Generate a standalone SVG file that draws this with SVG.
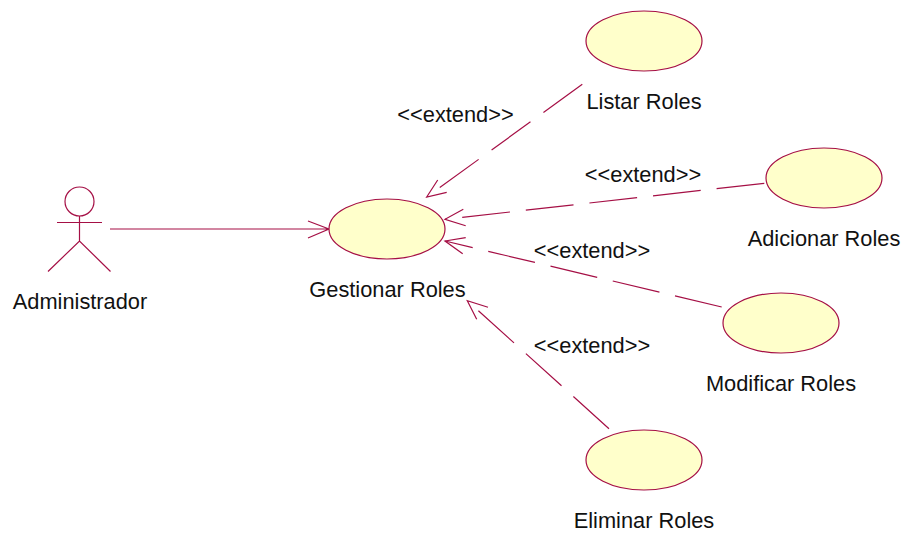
<svg xmlns="http://www.w3.org/2000/svg" width="902" height="533" viewBox="0 0 902 533">
<style>
.s{fill:none;stroke:#a50f45;stroke-width:1.2}
.d{stroke-dasharray:48 16}
.u{fill:#ffffcb;stroke:#a50f45;stroke-width:1.2}
text{font-family:"Liberation Sans",Arial,sans-serif;font-size:21.8px;fill:#111;text-anchor:middle}
</style>
<rect width="902" height="533" fill="#fff"/>
<g id="connectors">
<path class="s" d="M110 229H329M308 221L329 229L308 238"/>
<path class="s d" d="M582.300 84.300L426.700 197"/><path class="s" d="M437.700 180L426.700 197L446.700 192.300"/>
<path class="s d" d="M764.300 183.300L445 219.300"/><path class="s" d="M463.300 209.300L445 219.300L465.700 225.700"/>
<path class="s d" d="M721.700 307L445 241"/><path class="s" d="M465.700 237.700L445 241L462.700 253.700"/>
<path class="s d" d="M609 428.700L467.300 300.700"/><path class="s" d="M488 307.300L467.300 300.700L476.700 319.300"/>
</g>
<g id="labels">
<text x="455.500" y="122">&lt;&lt;extend&gt;&gt;</text>
<text x="643" y="182">&lt;&lt;extend&gt;&gt;</text>
<text x="592" y="258">&lt;&lt;extend&gt;&gt;</text>
<text x="592" y="353">&lt;&lt;extend&gt;&gt;</text>
</g>
<g id="administrador">
<circle class="s" cx="79.500" cy="201.500" r="14.500"/>
<path class="s" d="M57 222.500H102M79.500 216V241M48 271.500L79.500 241L110.500 271.500"/>
<text x="80" y="309">Administrador</text>
</g>
<g id="gestionar"><ellipse class="u" cx="387" cy="229" rx="58" ry="30"/><text x="387.500" y="296.500">Gestionar Roles</text></g>
<g id="listar"><ellipse class="u" cx="644" cy="41" rx="58" ry="30"/><text x="644" y="108.500">Listar Roles</text></g>
<g id="adicionar"><ellipse class="u" cx="824" cy="178" rx="58" ry="30"/><text x="824" y="245.500">Adicionar Roles</text></g>
<g id="modificar"><ellipse class="u" cx="781" cy="323" rx="58" ry="30"/><text x="781" y="390.500">Modificar Roles</text></g>
<g id="eliminar"><ellipse class="u" cx="644" cy="460" rx="58" ry="30"/><text x="644" y="527.500">Eliminar Roles</text></g>
</svg>
